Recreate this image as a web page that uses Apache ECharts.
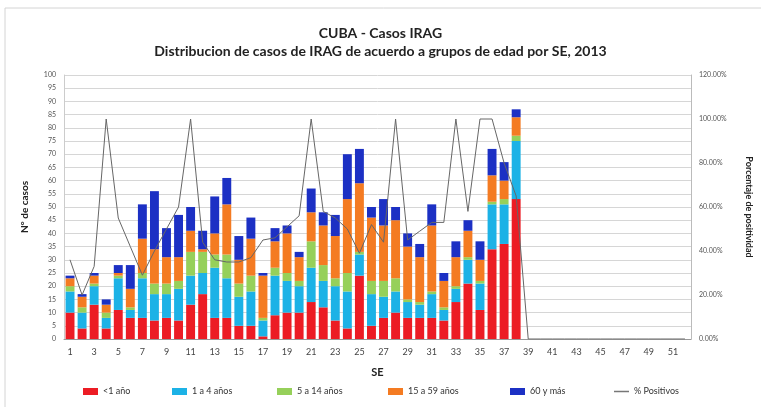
<!DOCTYPE html>
<html>
<head>
<meta charset="utf-8">
<script src="https://cdn.jsdelivr.net/npm/echarts@6/dist/echarts.min.js"></script>
<style>
	html, body { margin: 0; padding: 0; background: #fff; }
	#chart { width: 761px; height: 407px; }
</style>
</head>
<body>
<div id="chart"></div>
<script>
// semanas epidemiologicas 1..52
var semanas = [];
for (var i = 1; i <= 52; i++) semanas.push(String(i));

var menos1 = [10, 4, 13, 4, 11, 8, 8, 7, 8, 7, 13, 17, 8, 8, 5, 5, 1, 9, 10, 10, 14, 12, 7, 4, 24, 5, 8, 10, 8, 8, 8, 7, 14, 21, 11, 34, 36, 53];
var uno4 = [8, 6, 7, 4, 12, 3, 15, 10, 9, 12, 11, 8, 19, 15, 11, 13, 6, 15, 12, 10, 13, 10, 13, 14, 8, 12, 8, 8, 6, 5, 9, 4, 5, 9, 10, 17, 15, 22];
var cinco14 = [2, 2, 1, 2, 1, 1, 2, 4, 4, 3, 9, 8, 5, 9, 5, 6, 1, 3, 3, 2, 10, 6, 3, 7, 1, 5, 6, 5, 1, 1, 1, 1, 1, 1, 1, 1, 2, 2];
var quince59 = [3, 4, 3, 3, 1, 7, 13, 13, 10, 9, 8, 1, 8, 19, 9, 14, 16, 10, 15, 9, 11, 15, 16, 28, 26, 24, 21, 22, 20, 17, 25, 10, 11, 10, 8, 10, 7, 7];
var sesenta = [1, 1, 1, 2, 3, 9, 13, 22, 11, 16, 9, 7, 14, 10, 9, 8, 1, 5, 3, 2, 9, 5, 8, 17, 13, 4, 10, 5, 5, 5, 8, 3, 6, 4, 7, 10, 7, 3];
// % positivos, semanas 1..52
var positivos = [36, 20, 33, 100, 55, 42, 29, 40, 50, 60, 100, 44, 36, 35, 35, 37, 45, 46, 51, 56, 100, 58, 55, 50, 39, 52, 44, 100, 45, 49, 53, 53, 100, 58, 100, 100, 80, 65,
	0, 0, 0, 0, 0, 0, 0, 0, 0, 0, 0, 0, 0, 0];

var grupos = ['<1 año', '1 a 4 años', '5 a 14 años', '15 a 59 años', '60 y más', '% Positivos'];
var colores = ['#ec1c24', '#1cb2e6', '#96d05a', '#f47b22', '#1c30c4', '#777'];

var font = 'Lato, "Open Sans", sans-serif';

var barra = function(idx, datos) {
	return {
		name : grupos[idx],
		type : 'bar',
		stack : 'edad',
		barCategoryGap : '26%',
		data : datos,
		itemStyle : { color : colores[idx] }
	};
};

// una leyenda por item, para colocarlas como en el original
var posLeyenda = [83, 172, 277, 388, 510, 614];
var leyendas = posLeyenda.map(function(x, i) {
	var esLinea = i == 5;
	return {
		left : x,
		top : 387,
		padding : 0,
		itemWidth : 15,
		itemHeight : esLinea ? 1.5 : 7,
		itemGap : 4,
		textStyle : { fontSize : 9, color : '#333', fontFamily : font },
		data : [ { name : grupos[i], icon : 'rect', itemStyle : { color : colores[i] } } ]
	};
});

var chart = echarts.init(document.getElementById('chart'));
var option = {
	backgroundColor : '#fff',
	animation : false,
	textStyle : { fontFamily : font },
	graphic : [ {
		type : 'rect',
		shape : { x : 5, y : 8, width : 800, height : 420 },
		style : { fill : 'none', stroke : '#d4d4d4', lineWidth : 1 }
	} ],
	title : [ {
		text : 'CUBA - Casos IRAG',
		left : 'center',
		top : 21,
		textStyle : { fontSize : 14, fontWeight : 'bold', color : '#222', fontFamily : font }
	}, {
		text : 'Distribucion de casos de IRAG de acuerdo a grupos de edad por SE, 2013',
		left : 'center',
		top : 39,
		textStyle : { fontSize : 14, fontWeight : 'bold', color : '#222', fontFamily : font }
	} ],
	legend : leyendas,
	grid : { left : 64, right : 60, top : 75, bottom : 68 },
	xAxis : {
		type : 'category',
		data : semanas,
		name : 'SE',
		nameLocation : 'middle',
		nameGap : 28,
		nameTextStyle : { fontSize : 11, fontWeight : 'bold', color : '#222' },
		axisLine : { lineStyle : { color : '#999' } },
		axisTick : { show : false },
		axisLabel : { interval : 1, fontSize : 9, color : '#444', margin : 9 }
	},
	yAxis : [ {
		type : 'value',
		min : 0,
		max : 100,
		interval : 5,
		name : 'N° de casos',
		nameLocation : 'middle',
		nameGap : 34,
		nameTextStyle : { fontSize : 10, fontWeight : 'bold', color : '#222' },
		axisLine : { show : true, lineStyle : { color : '#ccc' } },
		axisLabel : { fontSize : 7, color : '#555', margin : 8 },
		splitLine : { lineStyle : { color : '#d6d6d6' } }
	}, {
		type : 'value',
		min : 0,
		max : 120,
		interval : 20,
		name : 'Porcentaje de positividad',
		nameLocation : 'middle',
		nameGap : 53,
		nameRotate : -90,
		nameTextStyle : { fontSize : 9, fontWeight : 'bold', color : '#222' },
		axisLine : { show : true, lineStyle : { color : '#bbb' } },
		axisLabel : {
			fontSize : 7,
			color : '#555',
			margin : 8,
			formatter : function(v) { return v.toFixed(2) + '%'; }
		},
		splitLine : { show : false }
	} ],
	series : [
		barra(0, menos1),
		barra(1, uno4),
		barra(2, cinco14),
		barra(3, quince59),
		barra(4, sesenta),
		{
			name : grupos[5],
			type : 'line',
			yAxisIndex : 1,
			data : positivos,
			symbol : 'none',
			lineStyle : { color : '#666', width : 1 },
			itemStyle : { color : colores[5] }
		}
	]
};
chart.setOption(option);
</script>
</body>
</html>
